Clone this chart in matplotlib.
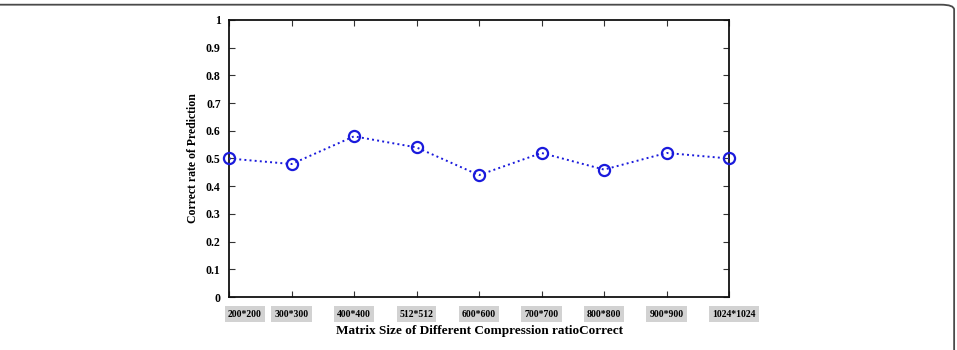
import numpy as np
import matplotlib.pyplot as plt
from matplotlib.patches import FancyBboxPatch
from matplotlib.transforms import ScaledTranslation

sizes = ["200*200", "300*300", "400*400", "512*512", "600*600",
         "700*700", "800*800", "900*900", "1024*1024"]
correct_rate = [0.50, 0.48, 0.58, 0.54, 0.44, 0.52, 0.46, 0.52, 0.50]
y_ticks = [0, 0.1, 0.2, 0.3, 0.4, 0.5, 0.6, 0.7, 0.8, 0.9, 1]

plt.rcParams["font.family"] = ["Liberation Serif", "DejaVu Serif"]
plt.rcParams["font.weight"] = "bold"

fig = plt.figure(figsize=(9.57, 3.5), dpi=100)

# Frame around the figure (only top and right edges visible)
frame = FancyBboxPatch((-0.05, -0.05), 1.047, 1.0366,
                       boxstyle="round,pad=0,rounding_size=0.014",
                       transform=fig.transFigure, facecolor="none",
                       edgecolor="#4a4a4a", linewidth=1.3, clip_on=False)
fig.patches.append(frame)

ax = fig.add_axes([0.2393, 0.1514, 0.5225, 0.7915])
x = np.arange(len(sizes))
ax.plot(x, correct_rate, linestyle=":", color="#1a1adc", linewidth=1.4,
        marker="o", markersize=8, markerfacecolor="none",
        markeredgecolor="#1a1adc", markeredgewidth=1.6, clip_on=False,
        zorder=5)

ax.set_xlim(0, len(sizes) - 1)
ax.set_ylim(0, 1)
ax.set_yticks(y_ticks)
ax.set_yticklabels([("%g" % v) for v in y_ticks], fontsize=8.5,
                   fontweight="bold")
ax.set_xticks(x)
ax.set_xticklabels(sizes, fontsize=7, fontweight="bold")
ax.tick_params(axis="both", direction="in", top=True, right=True,
               length=4, width=0.8, color="#333333")
ax.tick_params(axis="x", pad=9)
ax.tick_params(axis="y", pad=6)

labels = ax.get_xticklabels()
for lab in labels:
    lab.set_bbox(dict(facecolor="#d2d2d2", edgecolor="none", pad=2.2))
labels[0].set_transform(labels[0].get_transform()
                        + ScaledTranslation(16 / 100, 0, fig.dpi_scale_trans))
labels[-1].set_transform(labels[-1].get_transform()
                         + ScaledTranslation(5 / 100, 0, fig.dpi_scale_trans))

for sp in ax.spines.values():
    sp.set_linewidth(1.3)
    sp.set_color("#111111")

ax.set_xlabel("Matrix Size of Different Compression ratioCorrect",
              fontsize=9.5, fontweight="bold", labelpad=5)
ax.set_ylabel("Correct rate of Prediction", fontsize=8.5, fontweight="bold",
              labelpad=5)

fig.savefig("out.png", dpi=100)
